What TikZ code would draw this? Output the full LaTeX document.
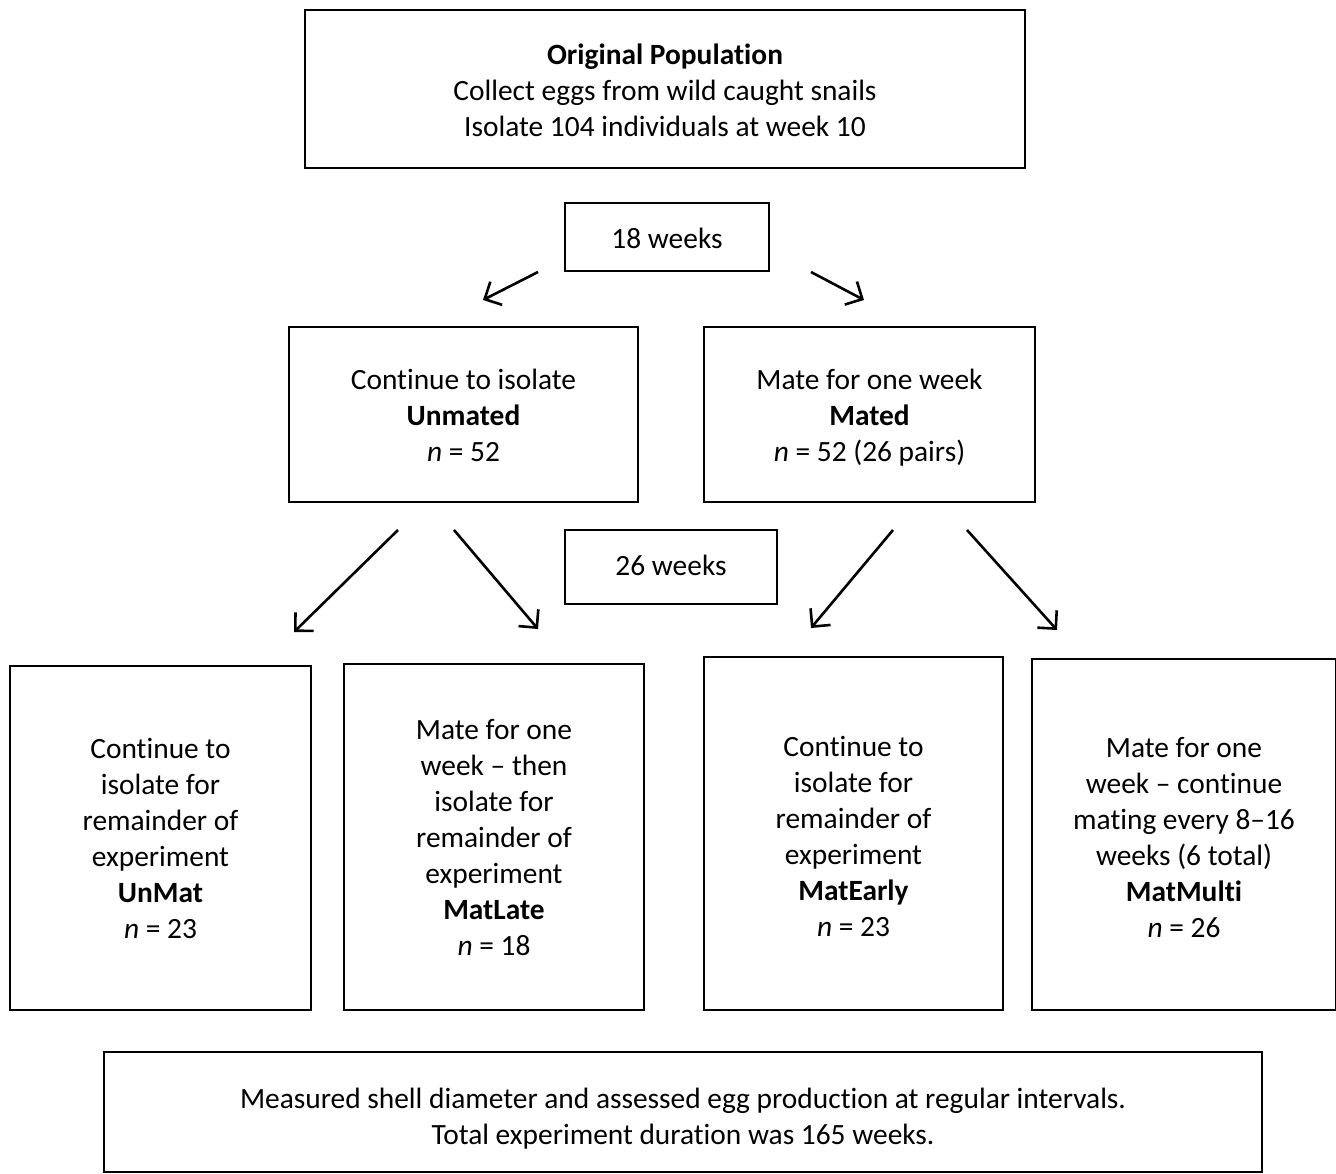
\documentclass[tikz,border=0pt]{standalone}
\usepackage{fontspec}
\setmainfont[Ligatures=NoCommon]{Carlito}
\usetikzlibrary{arrows.meta}
\begin{document}
\begin{tikzpicture}[x=1pt,y=-1pt,
  box/.style={draw,line width=2pt,rectangle,inner sep=0pt},
  lbl/.style={align=center,inner sep=0pt,font=\fontsize{29.4}{36}\selectfont},
  arr/.style={line width=2.6pt,-{Straight Barb[length=13pt,width=26pt,line width=2.6pt]}}]
\useasboundingbox (0,0) rectangle (1336,1174);
\newcommand{\bx}[7]{\node[box,minimum width=#3-#2,minimum height=#5-#4,
  label={[lbl,yshift=-#6pt]center:{#7}}] (#1) at ({(#2+#3)/2},{(#4+#5)/2}) {};}
\bx{orig}{305}{1025}{10}{168}{1}{\textbf{Original Population}\\Collect eggs from wild caught snails\\Isolate 104 individuals at week 10}
\bx{w18}{565}{769}{203}{271}{1}{18 weeks}
\bx{unm}{289}{638}{327}{502}{1}{Continue to isolate\\\textbf{Unmated}\\\textit{n} = 52}
\bx{mat}{704}{1035}{327}{502}{3}{Mate for one week\\\textbf{Mated}\\\textit{n} = 52 (26 pairs)}
\bx{w26}{565}{777}{530}{604}{-2}{26 weeks}
\bx{unmat}{10}{311}{666}{1010}{0}{Continue to\\isolate for\\remainder of\\experiment\\\textbf{UnMat}\\\textit{n} = 23}
\bx{matlate}{344}{644}{664}{1010}{1}{Mate for one\\week -- then\\isolate for\\remainder of\\experiment\\\textbf{MatLate}\\\textit{n} = 18}
\bx{matearly}{704}{1003}{657}{1010}{3}{Continue to\\isolate for\\remainder of\\experiment\\\textbf{MatEarly}\\\textit{n} = 23}
\bx{matmulti}{1032}{1336}{659}{1010}{3}{Mate for one\\week -- continue\\mating every 8--16\\weeks (6 total)\\\textbf{MatMulti}\\\textit{n} = 26}
\bx{final}{104}{1262}{1052}{1172}{7}{Measured shell diameter and assessed egg production at regular intervals.\\Total experiment duration was 165 weeks.}
\coordinate (a1s) at (538,272); \coordinate (a1e) at (483,300);
\coordinate (a2s) at (811,272); \coordinate (a2e) at (864,300);
\coordinate (a3s) at (398,530); \coordinate (a3e) at (294,632);
\coordinate (a4s) at (454,530); \coordinate (a4e) at (538,629);
\coordinate (a5s) at (893,530); \coordinate (a5e) at (811,628);
\coordinate (a6s) at (967,530); \coordinate (a6e) at (1057,630);
\foreach \i in {1,...,6} {\draw[arr] (a\i s) -- (a\i e);}
\end{tikzpicture}
\end{document}
